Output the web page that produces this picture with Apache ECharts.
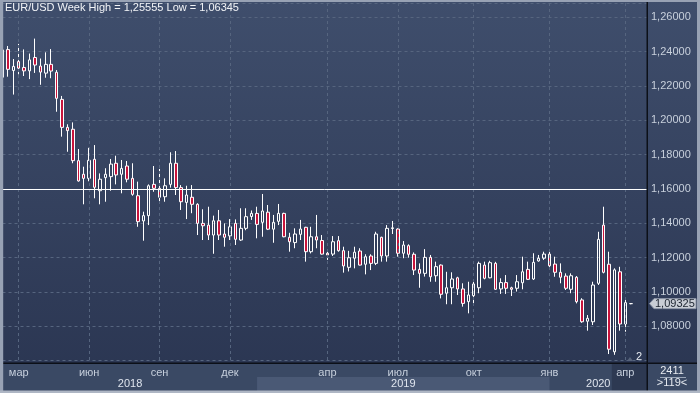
<!DOCTYPE html>
<html><head><meta charset="utf-8">
<script src="https://cdn.jsdelivr.net/npm/echarts@6.0.0/dist/echarts.min.js"></script>
<style>html,body{margin:0;padding:0;background:#2c3854;}#c{width:700px;height:393px;}</style>
</head><body><div id="c"></div>
<script>
const chartTitle = 'EUR/USD Week High = 1,25555 Low = 1,06345';

const open = [1.2251,1.2412,1.2290,1.2342,1.2308,1.2288,1.2366,1.2316,1.2275,1.2326,
1.2280,1.2122,1.1959,1.1948,1.1765,1.1686,1.1662,1.1773,1.1590,1.1666,
1.1672,1.1750,1.1686,1.1734,1.1662,1.1561,1.1414,1.1445,1.1627,1.1604,
1.1555,1.1627,1.1750,1.1608,1.1522,1.1552,1.1511,1.1400,1.1390,1.1332,
1.1415,1.1338,1.1327,1.1400,1.1303,1.1371,1.1440,1.1458,1.1406,1.1465,
1.1366,1.1412,1.1458,1.1319,1.1288,1.1336,1.1377,1.1235,1.1322,1.1300,
1.1226,1.1221,1.1299,1.1241,1.1144,1.1197,1.1239,1.1162,1.1210,1.1167,
1.1319,1.1210,1.1370,1.1367,1.1226,1.1270,1.1220,1.1132,1.1109,1.1202,
1.1095,1.1157,1.0993,1.1025,1.1083,1.1018,1.0944,1.0979,1.1025,1.1157,
1.1083,1.1167,1.1018,1.1055,1.1025,1.1022,1.1054,1.1132,1.1076,1.1181,
1.1197,1.1221,1.1163,1.1115,1.1093,1.1016,1.1086,1.0954,1.0830,1.0827,
1.1051,1.1390,1.1162,1.0652,1.1118,1.0814,1.09325];
const high = [1.2555,1.2433,1.2357,1.2445,1.2413,1.2389,1.2476,1.2360,1.2396,1.2415,
1.2293,1.2142,1.1977,1.1988,1.1833,1.1730,1.1840,1.1856,1.1691,1.1721,
1.1775,1.1794,1.1769,1.1763,1.1750,1.1643,1.1468,1.1627,1.1734,1.1717,
1.1662,1.1814,1.1821,1.1623,1.1619,1.1623,1.1517,1.1482,1.1497,1.1445,
1.1478,1.1400,1.1425,1.1423,1.1488,1.1488,1.1475,1.1497,1.1571,1.1507,
1.1449,1.1513,1.1462,1.1345,1.1371,1.1420,1.1380,1.1380,1.1449,1.1332,
1.1249,1.1326,1.1326,1.1264,1.1240,1.1264,1.1255,1.1220,1.1220,1.1351,
1.1322,1.1390,1.1414,1.1371,1.1297,1.1278,1.1231,1.1167,1.1250,1.1216,
1.1177,1.1161,1.1118,1.1115,1.1089,1.1051,1.1060,1.1070,1.1177,1.1177,
1.1182,1.1176,1.1080,1.1099,1.1031,1.1099,1.1206,1.1177,1.1226,1.1216,
1.1235,1.1235,1.1206,1.1167,1.1109,1.1109,1.1093,1.0964,1.0866,1.1060,
1.1351,1.1497,1.1235,1.1138,1.1147,1.0958,1.0935];
const low = [1.2235,1.2254,1.2150,1.2268,1.2258,1.2240,1.2276,1.2207,1.2248,1.2245,
1.2050,1.1905,1.1817,1.1750,1.1643,1.1511,1.1645,1.1546,1.1511,1.1526,
1.1590,1.1627,1.1575,1.1639,1.1561,1.1380,1.1299,1.1390,1.1584,1.1526,
1.1526,1.1608,1.1565,1.1478,1.1425,1.1459,1.1332,1.1303,1.1303,1.1223,
1.1303,1.1264,1.1303,1.1274,1.1298,1.1360,1.1420,1.1313,1.1322,1.1361,
1.1287,1.1390,1.1319,1.1235,1.1255,1.1303,1.1177,1.1225,1.1255,1.1218,
1.1187,1.1210,1.1235,1.1113,1.1120,1.1138,1.1155,1.1103,1.1128,1.1157,
1.1177,1.1177,1.1338,1.1206,1.1197,1.1200,1.1099,1.1025,1.1090,1.1060,
1.1060,1.0963,1.0929,1.0929,1.0983,1.0915,1.0876,1.0934,1.0993,1.1074,
1.1080,1.1013,1.0989,1.0989,1.0977,1.1003,1.1016,1.1070,1.1070,1.1177,
1.1187,1.1138,1.1089,1.1051,1.1012,1.0993,1.0934,1.0821,1.0775,1.0808,
1.1041,1.1109,1.0639,1.06345,1.0775,1.0769,1.0929];
const close = [1.2410,1.2297,1.2314,1.2304,1.2288,1.2352,1.2322,1.2281,1.2326,1.2287,
1.2128,1.1959,1.1940,1.1765,1.1647,1.1662,1.1767,1.1610,1.1657,1.1686,
1.1745,1.1682,1.1720,1.1657,1.1569,1.1410,1.1445,1.1619,1.1604,1.1552,
1.1619,1.1750,1.1608,1.1526,1.1565,1.1511,1.1400,1.1386,1.1332,1.1415,
1.1332,1.1319,1.1380,1.1307,1.1371,1.1439,1.1458,1.1394,1.1472,1.1366,
1.1406,1.1458,1.1322,1.1293,1.1338,1.1367,1.1235,1.1322,1.1303,1.1221,
1.1216,1.1293,1.1241,1.1152,1.1200,1.1232,1.1157,1.1206,1.1167,1.1338,
1.1210,1.1371,1.1374,1.1226,1.1274,1.1220,1.1128,1.1109,1.1202,1.1089,
1.1148,1.0987,1.1025,1.1076,1.1018,1.0934,1.0983,1.1047,1.1167,1.1080,
1.1171,1.1016,1.1055,1.1022,1.1016,1.1060,1.1118,1.1074,1.1173,1.1197,
1.1221,1.1153,1.1115,1.1086,1.1022,1.1095,1.0944,1.0827,1.0847,1.1041,
1.1307,1.1115,1.0667,1.1129,1.0814,1.0938,1.09325];

const slotCount = 120;
const monthTickIdx = [3,16,29,42,60,73,87,101,115];
const monthTickLabels = ['мар','июн','сен','дек','апр','июл','окт','янв','апр'];
const yearStartIdx = [0,47,101];
const yearLabels = ['2018','2019','2020'];
const levelLine = 1.1604;
const lastPrice = 1.09325;
const lastPriceLabel = '1,09325';
const yMin = 1.05868, yMax = 1.26833, yStep = 0.02;
const infoTop = '2411', infoBottom = '>119<', cornerNum = '2';

const categories = [];
for (let i = 0; i < slotCount; i++) categories.push('w' + i);
const candles = open.map((o, i) => [o, close[i], low[i], high[i]]);

const FONT = "'Liberation Sans Narrow','Liberation Sans',Arial,sans-serif";
const chart = echarts.init(document.getElementById('c'), null, {renderer: 'canvas'});
const isTick = (i) => monthTickIdx.indexOf(i) >= 0;

chart.setOption({
  animation: false,
  backgroundColor: {type: 'linear', x: 0, y: 0, x2: 0, y2: 1,
    colorStops: [{offset: 0, color: '#3f4e6c'}, {offset: 1, color: '#2a3551'}]},
  grid: {left: 2.5, right: 53, top: 3, bottom: 30},
  xAxis: {
    type: 'category', data: categories, boundaryGap: false, z: 5,
    axisLine: {show: false}, axisTick: {show: false},
    axisLabel: {
      interval: (i) => isTick(i),
      formatter: (v, i) => { const k = monthTickIdx.indexOf(i); return k < 0 ? '' : monthTickLabels[k]; },
      color: (v, i) => (i === monthTickIdx[monthTickIdx.length - 1] ? '#7c89a2' : '#c6cfdc'),
      fontFamily: FONT, fontSize: 11, margin: 4
    },
    splitLine: {show: true, interval: (i) => isTick(i), lineStyle: {color: '#56657f', width: 1, type: [3, 3]}}
  },
  yAxis: {
    type: 'value', position: 'right', min: yMin, max: yMax,
    minInterval: yStep, maxInterval: yStep, splitNumber: 10,
    axisLine: {show: false}, axisTick: {show: false},
    axisLabel: {
      showMinLabel: false, showMaxLabel: false,
      formatter: (v) => (v < 1.07 ? '' : v.toFixed(5).replace('.', ',')),
      color: '#c8d0dc', fontFamily: FONT, fontSize: 11, margin: 4
    },
    splitLine: {show: true, lineStyle: {color: '#56657f', width: 1, type: [3, 3]}}
  },
  series: [{
    type: 'candlestick', data: candles, barWidth: 3, clip: true,
    itemStyle: {color: 'rgba(0,0,0,0)', color0: '#c8143c', borderColor: '#ffffff',
      borderColor0: '#ffffff', borderColorDoji: '#ffffff', borderWidth: 1},
    markLine: {silent: true, symbol: 'none', label: {show: false},
      lineStyle: {color: '#ffffff', width: 1, type: 'solid'}, data: [{yAxis: levelLine}]}
  }]
});

const px = (i) => chart.convertToPixel({xAxisIndex: 0}, i);
const py = (v) => chart.convertToPixel({yAxisIndex: 0}, v);
const W = 700, H = 393;
const gridRight = W - 53, gridBottom = H - 30;
const g = [];
// axis panels
g.push({type: 'rect', z: 1, shape: {x: 0, y: gridBottom, width: W, height: H - gridBottom}, style: {fill: '#3a4964'}});
const y2019a = px(yearStartIdx[1]), y2020a = px(yearStartIdx[2]);
g.push({type: 'rect', z: 1, shape: {x: y2019a, y: gridBottom + 14, width: y2020a - y2019a, height: 14}, style: {fill: '#4a5975'}});
const boxX = (px(112) + px(113)) / 2;
g.push({type: 'rect', z: 1, shape: {x: boxX, y: gridBottom, width: gridRight - boxX, height: 28}, style: {fill: '#2d3952'}});
// year labels
const bandEdges = [3, y2019a, y2020a, gridRight];
yearLabels.forEach((t, k) => {
  g.push({type: 'text', z: 100, style: {text: t, x: (bandEdges[k] + bandEdges[k + 1]) / 2, y: gridBottom + 21,
    align: 'center', verticalAlign: 'middle', fill: '#dfe5ee', font: '11px ' + FONT}});
});
// black lines
g.push({type: 'rect', z: 100, shape: {x: 0, y: gridBottom - 0.5, width: W, height: 1.5}, style: {fill: '#0c1018'}});
g.push({type: 'rect', z: 100, shape: {x: gridRight - 0.5, y: 0, width: 1.5, height: H}, style: {fill: '#0c1018'}});
// right info panel
g.push({type: 'text', z: 100, style: {text: infoTop, x: 672, y: gridBottom + 8, align: 'center', verticalAlign: 'middle', fill: '#e6eaf0', font: '11px ' + FONT}});
g.push({type: 'rect', z: 100, shape: {x: 660, y: gridBottom + 14, width: 26, height: 1}, style: {fill: '#9aa6b8'}});
g.push({type: 'text', z: 100, style: {text: infoBottom, x: 672, y: gridBottom + 20, align: 'center', verticalAlign: 'middle', fill: '#e6eaf0', font: '11px ' + FONT}});
// corner number & triangle
g.push({type: 'text', z: 100, style: {text: cornerNum, x: 639, y: gridBottom - 6, align: 'center', verticalAlign: 'middle', fill: '#e6eaf0', font: '11px ' + FONT}});
g.push({type: 'polygon', z: 100, shape: {points: [[627, gridBottom - 2], [633, gridBottom - 2], [630, gridBottom - 6]]}, style: {fill: '#56627a'}});
// last price tag
const ly = py(lastPrice);
g.push({type: 'polygon', z: 100, shape: {points: [[649.5, ly], [654, ly - 5], [696, ly - 5], [696, ly + 5], [654, ly + 5]]},
  style: {fill: '#c9cdd5', stroke: '#8e97a8', lineWidth: 1}});
g.push({type: 'text', z: 101, style: {text: lastPriceLabel, x: 655, y: ly + 0.5, align: 'left', verticalAlign: 'middle', fill: '#1c2430', font: '11px ' + FONT}});
// title
g.push({type: 'text', z: 100, style: {text: chartTitle, x: 5, y: 8, align: 'left', verticalAlign: 'middle', fill: '#f2f4f7', font: '11px ' + FONT}});
// frame
const frame = '#98a2b4';
g.push({type: 'rect', z: 110, shape: {x: 0, y: 0, width: 3.2, height: H}, style: {fill: frame}});
g.push({type: 'rect', z: 110, shape: {x: 0, y: 0, width: W, height: 2}, style: {fill: frame}});
g.push({type: 'rect', z: 110, shape: {x: W - 3, y: 0, width: 3, height: H}, style: {fill: frame}});
g.push({type: 'rect', z: 110, shape: {x: 0, y: H - 2.5, width: W, height: 2.5}, style: {fill: '#aeb6c4'}});
chart.setOption({graphic: {elements: g}});
</script></body></html>
